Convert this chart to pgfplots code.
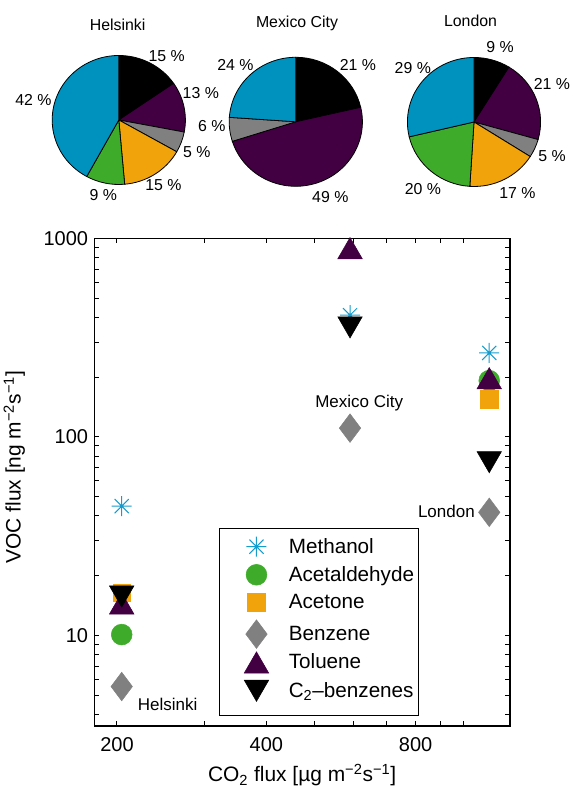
\documentclass[border=0pt]{standalone}
\usepackage{pgfplots}
\pgfplotsset{compat=1.18}
\usepackage{fontspec}
\setmainfont{Liberation Sans}

\definecolor{cMeth}{RGB}{0,146,190}
\definecolor{cMethL}{RGB}{20,156,205}
\definecolor{cAcald}{RGB}{62,172,42}
\definecolor{cAcet}{RGB}{240,163,10}
\definecolor{cBenz}{RGB}{128,128,128}
\definecolor{cTol}{RGB}{66,0,66}
\definecolor{cC2}{RGB}{0,0,0}

\pgfdeclareplotmark{mast}{%
  \pgfpathmoveto{\pgfqpoint{-\pgfplotmarksize}{0pt}}\pgfpathlineto{\pgfqpoint{\pgfplotmarksize}{0pt}}%
  \pgfpathmoveto{\pgfqpoint{0pt}{-\pgfplotmarksize}}\pgfpathlineto{\pgfqpoint{0pt}{\pgfplotmarksize}}%
  \pgfpathmoveto{\pgfqpoint{-.707\pgfplotmarksize}{-.707\pgfplotmarksize}}\pgfpathlineto{\pgfqpoint{.707\pgfplotmarksize}{.707\pgfplotmarksize}}%
  \pgfpathmoveto{\pgfqpoint{-.707\pgfplotmarksize}{.707\pgfplotmarksize}}\pgfpathlineto{\pgfqpoint{.707\pgfplotmarksize}{-.707\pgfplotmarksize}}%
  \pgfusepathqstroke}
\pgfdeclareplotmark{mtriup}{%
  \pgfpathmoveto{\pgfqpoint{0pt}{.75\pgfplotmarksize}}%
  \pgfpathlineto{\pgfqpoint{.866\pgfplotmarksize}{-.75\pgfplotmarksize}}%
  \pgfpathlineto{\pgfqpoint{-.866\pgfplotmarksize}{-.75\pgfplotmarksize}}%
  \pgfpathclose\pgfusepathqfillstroke}
\pgfdeclareplotmark{mtridown}{%
  \pgfpathmoveto{\pgfqpoint{0pt}{-.75\pgfplotmarksize}}%
  \pgfpathlineto{\pgfqpoint{.866\pgfplotmarksize}{.75\pgfplotmarksize}}%
  \pgfpathlineto{\pgfqpoint{-.866\pgfplotmarksize}{.75\pgfplotmarksize}}%
  \pgfpathclose\pgfusepathqfillstroke}

% pie: #1 = centre, #2 = list of percent/colour (clockwise from 12 o'clock)
\newcommand{\piechart}[2]{%
\begin{axis}[at={#1}, anchor=center, scale only axis, width=99.9pt, height=96.75pt,
  xmin=-1, xmax=1, ymin=-1, ymax=1, hide axis, clip=false]
  \gdef\cum{90}%
  \foreach \v/\c in {#2}{%
    \pgfmathsetmacro\aend{\cum-3.6*\v}%
    \edef\temp{\noexpand\fill[\c, draw=black, line width=0.6pt] (axis cs:0,0) -- (axis cs:{cos(\cum)},{sin(\cum)}) arc[start angle=\cum, end angle=\aend, x radius=49.95pt, y radius=48.375pt] -- cycle;}%
    \temp
    \xdef\cum{\aend}%
  }
\end{axis}}

\newcommand{\fsA}{\fontsize{11.9}{14}\selectfont}
\newcommand{\fsB}{\fontsize{12.75}{15}\selectfont}
\newcommand{\fsC}{\fontsize{15}{18}\selectfont}
\newcommand{\fsD}{\fontsize{15.5}{18}\selectfont}
\newcommand{\fsL}{\fontsize{15.7}{18}\selectfont}

\begin{document}
\begin{tikzpicture}

% ---- pies ----
\piechart{(89.1pt,503.25pt)}{15.4/cC2, 12.6/cTol, 5.2/cBenz, 15.4/cAcet, 9.4/cAcald, 42.0/cMeth}
\piechart{(221.85pt,501.9pt)}{21.4/cC2, 48.7/cTol, 6.0/cBenz, 23.9/cMeth}
\piechart{(355.5pt,501.75pt)}{8.8/cC2, 20.6/cTol, 4.6/cBenz, 17.0/cAcet, 20.3/cAcald, 28.7/cMeth}

% ---- main scatter ----
\begin{axis}[
  at={(70.725pt,48.75pt)}, anchor=south west,
  scale only axis, width=311.775pt, height=365.775pt,
  xmode=log, ymode=log,
  xmin=180, xmax=1240, ymin=3.5, ymax=1000,
  xtick={200,400,800}, xticklabels={200,400,800},
  minor xtick={300,500,600,700,900,1000},
  ytick={10,100,1000}, yticklabels={10,100,1000},
  minor ytick={4,5,6,7,8,9,20,30,40,50,60,70,80,90,200,300,400,500,600,700,800,900},
  tick align=inside, major tick length=3.75pt, minor tick length=3.5pt,
  tick style={black, line width=0.75pt},
  axis line style={line width=1pt},
  /pgf/number format/assume math mode=true,
  tick label style={font=\fsC},
  xticklabel style={anchor=base, inner sep=0pt, yshift=-19.3pt},
  yticklabel style={anchor=east, inner sep=0pt, xshift=-4.5pt},
  xlabel={CO\textsubscript{2} flux [µg m\textsuperscript{−2}s\textsuperscript{−1}]},
  ylabel={VOC flux [ng m\textsuperscript{−2}s\textsuperscript{−1}]},
  label style={font=\fsL},
  xlabel style={at={(axis description cs:0.5,0)}, anchor=base, yshift=-41.8pt, inner sep=0pt},
  ylabel style={at={(axis description cs:-0.177,0.531)}, anchor=base, inner sep=0pt},
  clip=false,
  legend cell align=left,
  legend style={at={(axis description cs:0.3007,0.4054)}, anchor=north west,
    draw=black, line width=0.75pt, fill=white, inner xsep=3pt, inner ysep=5.9pt,
    font=\fsD, row sep=0.5pt, column sep=3.75pt,
    nodes={inner sep=0pt, text height=12pt, text depth=8pt}},
  legend image code/.code={\path[draw=none, fill=none] (0pt,-10pt) rectangle (45pt,10pt);
    \draw[#1] plot coordinates {(24.5pt,2.8pt)};},
]
\addplot[only marks, mark=mast, mark size=7.5pt, color=cMethL, mark options={line width=0.75pt}]
  coordinates {(204.4,44.8) (590,410) (1126,264.7)};
\addlegendentry{Methanol}
\addplot[only marks, mark=*, mark size=7.8pt, color=cAcald, mark options={line width=0.4pt}]
  coordinates {(204.4,10.1) (1126,192)};
\addlegendentry{Acetaldehyde}
\addplot[only marks, mark=square*, mark size=6.7pt, color=cAcet, mark options={line width=0.4pt}]
  coordinates {(204.4,16.4) (1126,154.6)};
\addlegendentry{Acetone}
\addplot[only marks, mark=diamond*, mark size=10.7pt, color=cBenz, mark options={line width=0.4pt}]
  coordinates {(204.4,5.53) (590,110.7) (1126,41.7)};
\addlegendentry{Benzene}
\addplot[only marks, mark=mtriup, mark size=10.6pt, color=cTol, mark options={line width=0.4pt}]
  coordinates {(204.4,14.5) (590,892) (1126,197.5)};
\addlegendentry{Toluene}
\addplot[only marks, mark=mtridown, mark size=10.6pt, color=cC2, mark options={line width=0.4pt}]
  coordinates {(204.4,15.7) (590,356) (1126,74.6)};
\addlegendentry{C\textsubscript{2}--benzenes}
\end{axis}

% ---- texts in pixel coordinates (origin top-left) ----
\begin{scope}[x=0.75pt, y=-0.75pt, shift={(0pt,593.25pt)}]
  \node[font=\fsA, anchor=base, inner sep=0pt] at (117.6,30.7) {Helsinki};
  \node[font=\fsA, anchor=base, inner sep=0pt] at (297,27.3) {Mexico City};
  \node[font=\fsA, anchor=base, inner sep=0pt] at (470.5,26.7) {London};
  % Helsinki
  \node[font=\fsA, inner sep=0pt] at (166.7,55.8) {15 \%};
  \node[font=\fsA, inner sep=0pt] at (200.8,92.7) {13 \%};
  \node[font=\fsA, inner sep=0pt] at (33.5,100.5) {42 \%};
  \node[font=\fsA, inner sep=0pt] at (196.8,151.7) {5 \%};
  \node[font=\fsA, inner sep=0pt] at (163.4,185.5) {15 \%};
  \node[font=\fsA, inner sep=0pt] at (103.4,195.5) {9 \%};
  % Mexico City
  \node[font=\fsA, inner sep=0pt] at (235.5,65.5) {24 \%};
  \node[font=\fsA, inner sep=0pt] at (358,65.5) {21 \%};
  \node[font=\fsA, inner sep=0pt] at (211.7,126) {6 \%};
  \node[font=\fsA, inner sep=0pt] at (330.3,197.3) {49 \%};
  % London
  \node[font=\fsA, inner sep=0pt] at (500,46.7) {9 \%};
  \node[font=\fsA, inner sep=0pt] at (552,84) {21 \%};
  \node[font=\fsA, inner sep=0pt] at (412.8,68.3) {29 \%};
  \node[font=\fsA, inner sep=0pt] at (552,156.3) {5 \%};
  \node[font=\fsA, inner sep=0pt] at (517.5,193.3) {17 \%};
  \node[font=\fsA, inner sep=0pt] at (423,189.3) {20 \%};
  % annotations in the scatter plot
  \node[font=\fsB, anchor=base, inner sep=0pt] at (359.2,407.3) {Mexico City};
  \node[font=\fsB, anchor=base east, inner sep=0pt] at (475,517.3) {London};
  \node[font=\fsB, anchor=base west, inner sep=0pt] at (137.7,711) {Helsinki};
\end{scope}

\pgfresetboundingbox
\path[use as bounding box] (0pt,0pt) rectangle (430.5pt,593.25pt);
\end{tikzpicture}
\end{document}
